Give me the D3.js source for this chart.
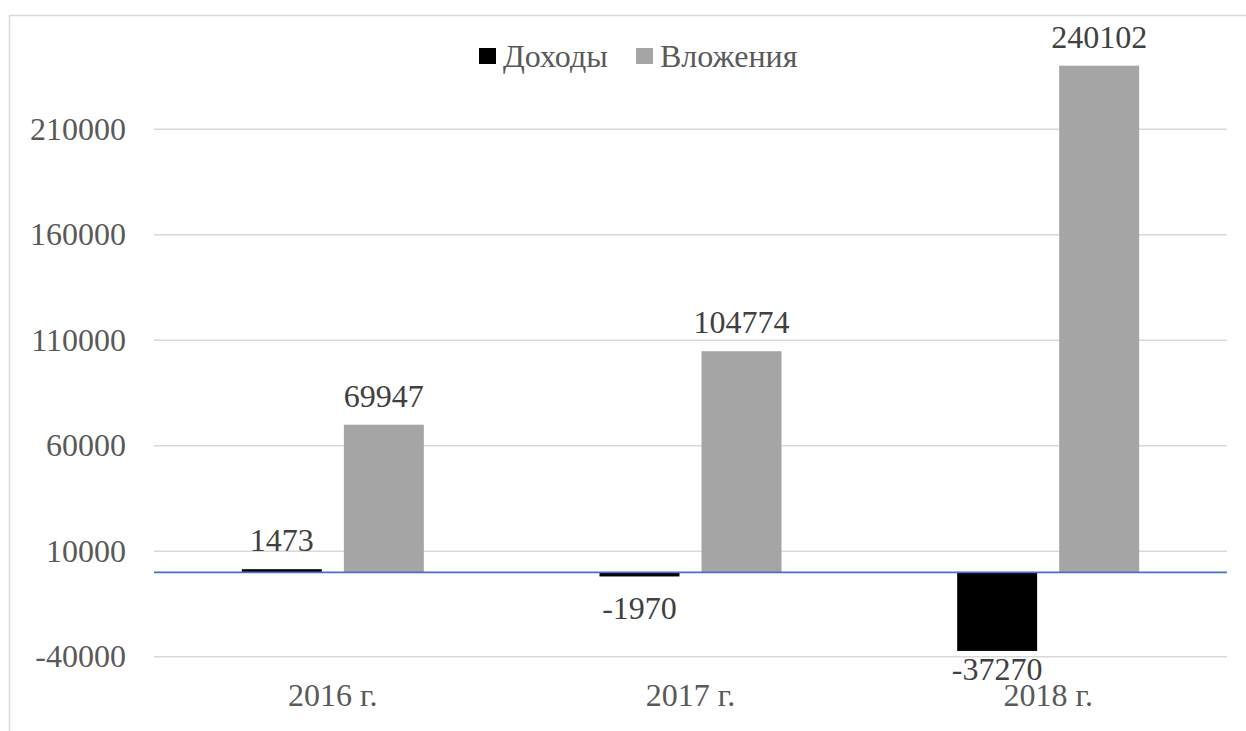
<!DOCTYPE html>
<html>
<head>
<meta charset="utf-8">
<script src="https://cdn.jsdelivr.net/npm/d3@7/dist/d3.min.js"></script>
<style>
  body { margin: 0; background: #fff; }
  svg text { font-family: 'Liberation Serif', 'Times New Roman', 'DejaVu Serif', serif; }
</style>
</head>
<body>
<svg id="chart" width="1246" height="731"></svg>
<script>
// данные диаграммы
var years = ["2016 г.", "2017 г.", "2018 г."];
var seriesNames = ["Доходы", "Вложения"];
var incomes = [1473, -1970, -37270];
var investments = [69947, 104774, 240102];
var tickValues = [-40000, 10000, 60000, 110000, 160000, 210000];
var seriesColors = ["#000000", "#a5a5a5"];

var FONT = "'Liberation Serif', 'Times New Roman', 'DejaVu Serif', serif";
var svg = d3.select("#chart").style("font-family", FONT);
var plot = { left: 154, right: 1227, top: 23.7, bottom: 656.7 };

// рамка области диаграммы (обрезана справа и снизу)
svg.append("rect")
  .attr("x", 9.5).attr("y", 15.5)
  .attr("width", 1400).attr("height", 900)
  .attr("fill", "none")
  .attr("stroke", "#d9d9d9")
  .attr("stroke-width", 1.5);

var y = d3.scaleLinear().domain([-40000, 260000]).range([plot.bottom, plot.top]);
var x0 = d3.scaleBand().domain(years).range([plot.left, plot.right]).padding(0);
var groupW = 182;
var x1 = d3.scaleBand().domain(seriesNames)
  .range([(x0.bandwidth() - groupW) / 2, (x0.bandwidth() + groupW) / 2])
  .paddingInner(0.216).paddingOuter(0);

// сетка
svg.append("g")
  .selectAll("line")
  .data(tickValues)
  .enter()
  .append("line")
  .attr("x1", plot.left).attr("x2", plot.right)
  .attr("y1", function (d) { return y(d); })
  .attr("y2", function (d) { return y(d); })
  .attr("stroke", "#d9d9d9")
  .attr("stroke-width", 1.5);

// подписи оси Y (дефис вместо типографского минуса)
var yAxis = d3.axisLeft(y).tickValues(tickValues).tickSize(0).tickPadding(28)
  .tickFormat(function (d) { return String(d); });
var gy = svg.append("g").attr("transform", "translate(" + plot.left + ",0)").call(yAxis);
gy.attr("font-family", null).attr("font-size", null);
gy.select(".domain").remove();
gy.selectAll("text")
  .style("font-family", FONT)
  .style("font-size", "32px")
  .attr("fill", "#595959");

// данные по группам
var rows = years.map(function (yr, i) {
  return { year: yr, values: [
    { name: seriesNames[0], value: incomes[i], color: seriesColors[0] },
    { name: seriesNames[1], value: investments[i], color: seriesColors[1] }
  ]};
});

var groups = svg.append("g")
  .selectAll("g")
  .data(rows)
  .enter()
  .append("g")
  .attr("transform", function (d) { return "translate(" + x0(d.year) + ",0)"; });

groups.selectAll("rect")
  .data(function (d) { return d.values; })
  .enter()
  .append("rect")
  .attr("x", function (d) { return x1(d.name); })
  .attr("width", x1.bandwidth())
  .attr("y", function (d) { return y(Math.max(0, d.value)); })
  .attr("height", function (d) { return Math.abs(y(d.value) - y(0)); })
  .attr("fill", function (d) { return d.color; });

// подписи значений
groups.selectAll("text")
  .data(function (d) { return d.values; })
  .enter()
  .append("text")
  .attr("x", function (d) { return x1(d.name) + x1.bandwidth() / 2; })
  .attr("y", function (d) {
    if (d.value >= 0) return y(d.value) - 18;
    return Math.min(y(d.value) + 43, y(-40000) + 23.5);
  })
  .attr("text-anchor", "middle")
  .style("font-family", FONT)
  .style("font-size", "32px")
  .attr("fill", "#404040")
  .text(function (d) { return d.value; });

// нулевая линия
svg.append("line")
  .attr("x1", plot.left).attr("x2", plot.right)
  .attr("y1", y(0)).attr("y2", y(0))
  .attr("stroke", "#4472c4")
  .attr("stroke-width", 1.8);

// подписи оси X
svg.append("g")
  .selectAll("text")
  .data(years)
  .enter()
  .append("text")
  .attr("x", function (d) { return x0(d) + x0.bandwidth() / 2; })
  .attr("y", 705.5)
  .attr("text-anchor", "middle")
  .style("font-family", FONT)
  .style("font-size", "32px")
  .attr("fill", "#595959")
  .text(function (d) { return d; });

// легенда
var legendX = [479, 636];
var legend = svg.append("g")
  .selectAll("g")
  .data(seriesNames)
  .enter()
  .append("g")
  .attr("transform", function (d, i) { return "translate(" + legendX[i] + ",48)"; });
legend.append("rect")
  .attr("width", 17).attr("height", 16)
  .attr("fill", function (d, i) { return seriesColors[i]; });
legend.append("text")
  .attr("x", 24).attr("y", 18.5)
  .style("font-family", FONT)
  .style("font-size", "32px")
  .attr("fill", "#595959")
  .text(function (d) { return d; });
</script>
</body>
</html>
